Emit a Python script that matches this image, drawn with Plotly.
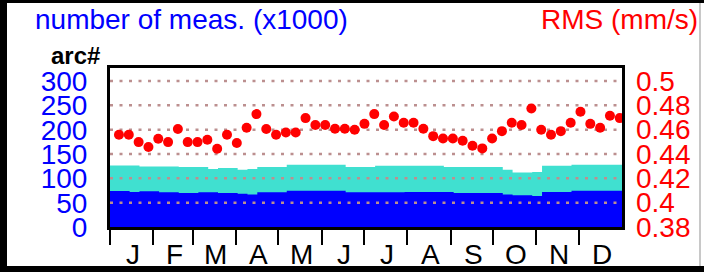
import plotly.graph_objects as go

# ---------------- data ----------------
months = ["J", "F", "M", "A", "M", "J", "J", "A", "S", "O", "N", "D"]
month_start_days = [0, 31, 59, 90, 120, 151, 181, 212, 243, 273, 304, 334, 365]

week_index = list(range(52))

# number of measurements (x1000), weekly: lower (blue) layer and total (turquoise top)
meas_blue = [74, 74, 72, 73.5, 73.5, 71.3, 71.3, 70, 70, 71.3,
             71.3, 70, 70, 68.6, 66.6, 71.3, 71.3, 71.3, 74.8, 74.8,
             74.8, 74.8, 74.8, 74.8, 71.3, 71.3, 71.3, 71.3, 71.3, 71.3,
             72, 72, 72, 72, 72, 70, 70, 70, 70, 70,
             66.6, 65.2, 65.2, 64, 72, 72, 72, 74.8, 74.8, 74.8,
             74.8, 74.8]
meas_total = [126.6, 126.6, 126.6, 124.6, 124.6, 124.6, 124.6, 123.3, 123.3, 123.3,
              119.2, 121.3, 121.3, 117.8, 119.2, 123.3, 123.3, 123.3, 128, 128,
              128, 128, 128, 128, 123.3, 123.3, 123.3, 125.9, 125.9, 125.9,
              125.9, 125.9, 125.9, 125.9, 123.3, 123.3, 123.3, 123.3, 123.3, 123.3,
              117.8, 112.3, 112.3, 113, 125.9, 125.9, 125.9, 128, 128, 128,
              128, 128]

# weekly RMS (mm/s)
rms = [0.4558, 0.4558, 0.4498, 0.4457, 0.4525, 0.4498, 0.4605, 0.4498, 0.4498, 0.4517,
       0.4443, 0.4558, 0.4490, 0.4616, 0.4728, 0.4605, 0.4558, 0.4577, 0.4577, 0.4695,
       0.4638, 0.4638, 0.4607, 0.4607, 0.4599, 0.4648, 0.4728, 0.4638, 0.4708, 0.4657,
       0.4657, 0.4607, 0.4547, 0.4528, 0.4528, 0.4509, 0.4468, 0.4446, 0.4528, 0.4588,
       0.4657, 0.4638, 0.4774, 0.4599, 0.4558, 0.4588, 0.4657, 0.4747, 0.4648, 0.4616,
       0.4714, 0.4695]

left_ticks = [0, 50, 100, 150, 200, 250, 300]
right_ticks = [0.38, 0.40, 0.42, 0.44, 0.46, 0.48, 0.50]
right_ticktext = ["0.38", "0.4", "0.42", "0.44", "0.46", "0.48", "0.5"]

# ---------------- layout geometry ----------------
W, H = 704, 272
L, R, T, B = 110, 82, 68, 45
PW, PH = W - L - R, H - T - B
FONT = "Liberation Sans, Arial, sans-serif"
BLUE, TURQ, RED, GRID = "#0000ff", "#40e0d0", "#ff0000", "#bc8f8f"


def px(xp):
    return (xp - L) / PW


def py(yp):
    return (H - B - yp) / PH


area_x = [7 * w for w in week_index] + [365]
dot_x = [7 * (w + 1) - 0.6 for w in week_index]

fig = go.Figure()
fig.add_trace(go.Scatter(x=area_x, y=meas_total + [meas_total[-1]], mode="lines",
                         line=dict(width=0, shape="hv", color=TURQ), fill="tozeroy",
                         fillcolor=TURQ, hoverinfo="skip", xaxis="x", yaxis="y"))
fig.add_trace(go.Scatter(x=area_x, y=meas_blue + [meas_blue[-1]], mode="lines",
                         line=dict(width=0, shape="hv", color=BLUE), fill="tozeroy",
                         fillcolor=BLUE, hoverinfo="skip", xaxis="x", yaxis="y"))
for v in right_ticks[1:]:
    fig.add_trace(go.Scatter(x=[month_start_days[0], month_start_days[-1]], y=[v, v],
                             mode="lines", line=dict(color=GRID, width=2.5, dash="3px,6.5px"),
                             hoverinfo="skip", xaxis="x", yaxis="y2"))
fig.add_trace(go.Scatter(x=dot_x, y=rms, mode="markers",
                         marker=dict(color=RED, size=10, line=dict(width=0)),
                         cliponaxis=False, hoverinfo="skip", xaxis="x", yaxis="y2"))

annotations = []
for i, m in enumerate(months):
    annotations.append(dict(x=(month_start_days[i] + month_start_days[i + 1]) / 2 + 1, xref="x",
                            y=py(237), yref="paper", yanchor="top", xanchor="center",
                            text=m, showarrow=False, font=dict(size=28, color="black", family=FONT)))
annotations += [
    dict(x=px(33), y=py(2), xref="paper", yref="paper", xanchor="left", yanchor="top",
         text="number of meas. (x1000)", showarrow=False, font=dict(size=28, color=BLUE, family=FONT)),
    dict(x=px(700), y=py(2), xref="paper", yref="paper", xanchor="right", yanchor="top",
         text="RMS (mm/s)", showarrow=False, font=dict(size=28, color=RED, family=FONT)),
    dict(x=px(75), y=py(55), xref="paper", yref="paper", xanchor="center", yanchor="middle",
         text="<b>arc#</b>", showarrow=False, font=dict(size=24, color="black", family=FONT)),
]

shapes = [
    dict(type="rect", xref="paper", yref="paper", x0=px(0), x1=px(7), y0=py(0), y1=py(H),
         fillcolor="black", line=dict(width=0), layer="above"),
    dict(type="rect", xref="paper", yref="paper", x0=px(0), x1=px(W), y0=py(0), y1=py(3),
         fillcolor="black", line=dict(width=0), layer="above"),
    dict(type="rect", xref="paper", yref="paper", x0=px(0), x1=px(W), y0=py(266), y1=py(H),
         fillcolor="black", line=dict(width=0), layer="above"),
    dict(type="rect", xref="paper", yref="paper", x0=px(699), x1=px(701), y0=py(3), y1=py(266),
         fillcolor="#c8c8c8", line=dict(width=0), layer="above"),
]

fig.update_layout(
    width=W, height=H, margin=dict(l=L, r=R, t=T, b=B, pad=0),
    paper_bgcolor="white", plot_bgcolor="white", showlegend=False, hovermode=False,
    font=dict(family=FONT),
    xaxis=dict(range=[month_start_days[0], month_start_days[-1]], tickvals=month_start_days[:-1],
               ticktext=[""] * 12, ticks="outside", ticklen=15, tickwidth=2, tickcolor="black",
               showline=True, linewidth=3, linecolor="black", mirror=True,
               showgrid=False, zeroline=False),
    yaxis=dict(range=[0, 327], tickvals=left_ticks, ticks="", showgrid=False, zeroline=False,
               showline=True, linewidth=3, linecolor="black", mirror=True,
               tickfont=dict(size=28, color=BLUE, family=FONT), ticklabelstandoff=14),
    yaxis2=dict(range=[0.38, 0.5107], overlaying="y", side="right", tickvals=right_ticks,
                ticktext=right_ticktext, ticks="", showgrid=False, zeroline=False, showline=False,
                tickfont=dict(size=28, color=RED, family=FONT), ticklabelstandoff=13),
    annotations=annotations, shapes=shapes,
)

fig.write_html("out.html", config={"displayModeBar": False},
               post_script="document.body.style.margin='0px';document.body.style.overflow='hidden';")
